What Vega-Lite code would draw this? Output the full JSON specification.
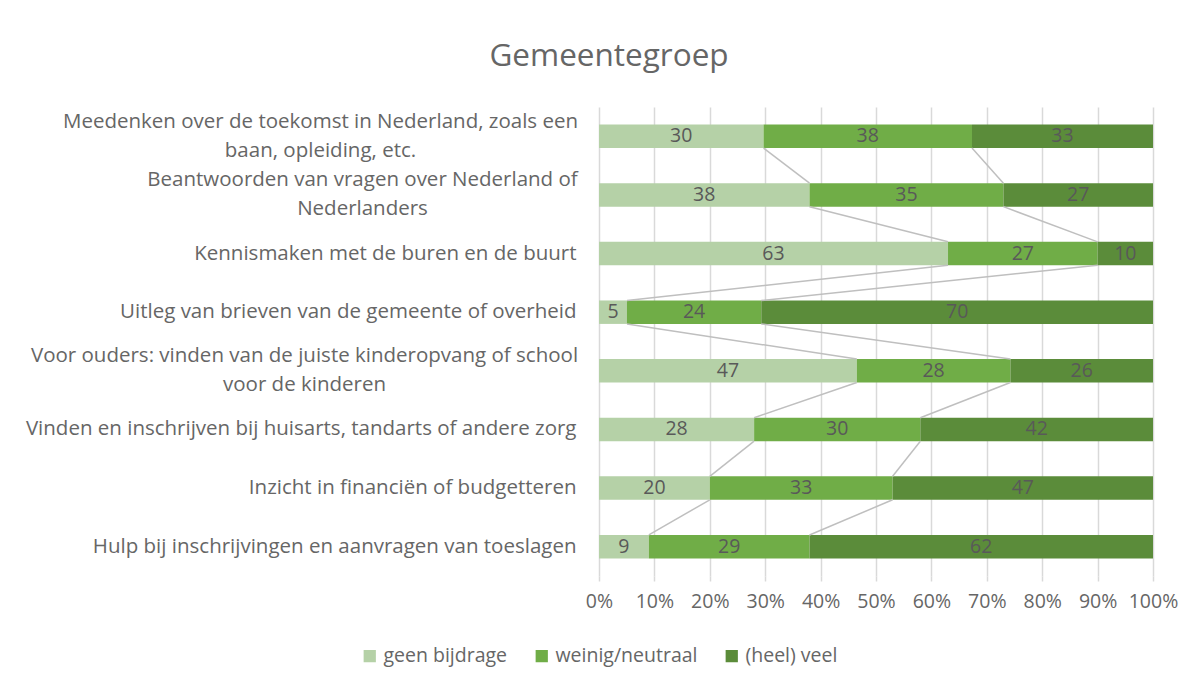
{
  "$schema": "https://vega.github.io/schema/vega-lite/v6.json",
  "width": 554,
  "height": 469,
  "autosize": {"type": "none"},
  "padding": {"left": 599, "top": 107, "right": 43, "bottom": 110},
  "background": "white",
  "config": {"font": "Open Sans", "view": {"stroke": null}},
  "title": {"text": "Gemeentegroep", "fontSize": 31.5, "fontWeight": "normal", "color": "#666666", "anchor": "middle", "dx": -267, "offset": 35, "font": "Open Sans"},
  "data": {"values": [
    {"cat": "Meedenken over de toekomst in Nederland, zoals een baan, opleiding, etc.", "order": 1, "series": "geen bijdrage", "s": 1, "value": 30},
    {"cat": "Meedenken over de toekomst in Nederland, zoals een baan, opleiding, etc.", "order": 1, "series": "weinig/neutraal", "s": 2, "value": 38},
    {"cat": "Meedenken over de toekomst in Nederland, zoals een baan, opleiding, etc.", "order": 1, "series": "(heel) veel", "s": 3, "value": 33},
    {"cat": "Beantwoorden van vragen over Nederland of Nederlanders", "order": 2, "series": "geen bijdrage", "s": 1, "value": 38},
    {"cat": "Beantwoorden van vragen over Nederland of Nederlanders", "order": 2, "series": "weinig/neutraal", "s": 2, "value": 35},
    {"cat": "Beantwoorden van vragen over Nederland of Nederlanders", "order": 2, "series": "(heel) veel", "s": 3, "value": 27},
    {"cat": "Kennismaken met de buren en de buurt", "order": 3, "series": "geen bijdrage", "s": 1, "value": 63},
    {"cat": "Kennismaken met de buren en de buurt", "order": 3, "series": "weinig/neutraal", "s": 2, "value": 27},
    {"cat": "Kennismaken met de buren en de buurt", "order": 3, "series": "(heel) veel", "s": 3, "value": 10},
    {"cat": "Uitleg van brieven van de gemeente of overheid", "order": 4, "series": "geen bijdrage", "s": 1, "value": 5},
    {"cat": "Uitleg van brieven van de gemeente of overheid", "order": 4, "series": "weinig/neutraal", "s": 2, "value": 24},
    {"cat": "Uitleg van brieven van de gemeente of overheid", "order": 4, "series": "(heel) veel", "s": 3, "value": 70},
    {"cat": "Voor ouders: vinden van de juiste kinderopvang of school voor de kinderen", "order": 5, "series": "geen bijdrage", "s": 1, "value": 47},
    {"cat": "Voor ouders: vinden van de juiste kinderopvang of school voor de kinderen", "order": 5, "series": "weinig/neutraal", "s": 2, "value": 28},
    {"cat": "Voor ouders: vinden van de juiste kinderopvang of school voor de kinderen", "order": 5, "series": "(heel) veel", "s": 3, "value": 26},
    {"cat": "Vinden en inschrijven bij huisarts, tandarts of andere zorg ", "order": 6, "series": "geen bijdrage", "s": 1, "value": 28},
    {"cat": "Vinden en inschrijven bij huisarts, tandarts of andere zorg ", "order": 6, "series": "weinig/neutraal", "s": 2, "value": 30},
    {"cat": "Vinden en inschrijven bij huisarts, tandarts of andere zorg ", "order": 6, "series": "(heel) veel", "s": 3, "value": 42},
    {"cat": "Inzicht in financiën of budgetteren", "order": 7, "series": "geen bijdrage", "s": 1, "value": 20},
    {"cat": "Inzicht in financiën of budgetteren", "order": 7, "series": "weinig/neutraal", "s": 2, "value": 33},
    {"cat": "Inzicht in financiën of budgetteren", "order": 7, "series": "(heel) veel", "s": 3, "value": 47},
    {"cat": "Hulp bij inschrijvingen en aanvragen van toeslagen", "order": 8, "series": "geen bijdrage", "s": 1, "value": 9},
    {"cat": "Hulp bij inschrijvingen en aanvragen van toeslagen", "order": 8, "series": "weinig/neutraal", "s": 2, "value": 29},
    {"cat": "Hulp bij inschrijvingen en aanvragen van toeslagen", "order": 8, "series": "(heel) veel", "s": 3, "value": 62}
  ]},
  "encoding": {
    "y": {
      "field": "cat", "type": "nominal",
      "sort": ["Meedenken over de toekomst in Nederland, zoals een baan, opleiding, etc.", "Beantwoorden van vragen over Nederland of Nederlanders", "Kennismaken met de buren en de buurt", "Uitleg van brieven van de gemeente of overheid", "Voor ouders: vinden van de juiste kinderopvang of school voor de kinderen", "Vinden en inschrijven bij huisarts, tandarts of andere zorg ", "Inzicht in financiën of budgetteren", "Hulp bij inschrijvingen en aanvragen van toeslagen"],
      "scale": {"paddingInner": 0.6, "paddingOuter": 0.3},
      "axis": {
        "title": null, "domain": false, "ticks": false, "grid": false,
        "labelFontSize": 20.5, "labelColor": "#666666", "labelLimit": 700, "labelLineHeight": 29, "labelFont": "Open Sans",
        "labelOffset": {"condition": {"test": "indexof(datum.value, 'Meedenken') == 0 || indexof(datum.value, 'Beantwoorden') == 0 || indexof(datum.value, 'Voor ouders') == 0", "value": -14.5}, "value": 0},
        "labelAlign": {"condition": {"test": "indexof(datum.value, 'Meedenken') == 0 || indexof(datum.value, 'Beantwoorden') == 0 || indexof(datum.value, 'Voor ouders') == 0", "value": "center"}, "value": "right"},
        "labelPadding": {"condition": [
          {"test": "indexof(datum.value, 'Meedenken') == 0", "value": 279},
          {"test": "indexof(datum.value, 'Beantwoorden') == 0", "value": 237},
          {"test": "indexof(datum.value, 'Voor ouders') == 0", "value": 295}
        ], "value": 23},
        "labelExpr": "datum.label == 'Meedenken over de toekomst in Nederland, zoals een baan, opleiding, etc.' ? ['Meedenken over de toekomst in Nederland, zoals een', 'baan, opleiding, etc.'] : datum.label == 'Beantwoorden van vragen over Nederland of Nederlanders' ? ['Beantwoorden van vragen over Nederland of', 'Nederlanders'] : datum.label == 'Voor ouders: vinden van de juiste kinderopvang of school voor de kinderen' ? ['Voor ouders: vinden van de juiste kinderopvang of school', 'voor de kinderen'] : datum.label"
      }
    }
  },
  "layer": [
    {
      "mark": {"type": "bar"},
      "encoding": {
        "x": {
          "field": "value", "type": "quantitative", "stack": "normalize",
          "scale": {"domain": [0, 1]},
          "axis": {
            "title": null, "format": ".0%", "values": [0, 0.1, 0.2, 0.3, 0.4, 0.5, 0.6, 0.7, 0.8, 0.9, 1],
            "domain": false, "ticks": true, "tickSize": 5, "tickColor": "#D9D9D9", "tickWidth": 1.5,
            "grid": true, "gridColor": "#D9D9D9", "gridWidth": 1.5,
            "labelFontSize": 19.5, "labelColor": "#666666", "labelPadding": 11, "labelFont": "Open Sans", "labelFlush": false
          }
        },
        "color": {
          "field": "series", "type": "nominal",
          "scale": {"domain": ["geen bijdrage", "weinig/neutraal", "(heel) veel"], "range": ["#B5D1A7", "#70AD47", "#5B8C3A"]},
          "legend": {
            "title": null, "orient": "none", "legendX": -239, "legendY": 539, "direction": "horizontal",
            "symbolType": "square", "symbolSize": 150, "symbolStrokeWidth": 0,
            "labelFontSize": 19.5, "labelColor": "#666666", "labelFont": "Open Sans", "labelOffset": 4, "columnPadding": 24, "labelLimit": 300
          }
        },
        "order": {"field": "s", "type": "quantitative"}
      }
    },
    {
      "mark": {"type": "text", "fontSize": 19.5, "color": "#595959", "font": "Open Sans", "baseline": "middle", "align": "center"},
      "encoding": {
        "x": {"field": "value", "type": "quantitative", "stack": "normalize", "bandPosition": 0.5},
        "detail": {"field": "series"},
        "order": {"field": "s", "type": "quantitative"},
        "text": {"field": "value", "type": "quantitative"}
      }
    },
    {
      "transform": [
        {"joinaggregate": [{"op": "sum", "field": "value", "as": "total"}], "groupby": ["cat"]},
        {"window": [{"op": "sum", "field": "value", "as": "cum"}], "groupby": ["cat"], "sort": [{"field": "s"}], "frame": [null, 0]},
        {"calculate": "datum.cum / datum.total", "as": "frac"},
        {"filter": "datum.s < 3"},
        {"window": [{"op": "lead", "field": "frac", "as": "nextFrac"}, {"op": "lead", "field": "cat", "as": "nextCat"}], "groupby": ["series"], "sort": [{"field": "order"}], "frame": [null, null]},
        {"filter": "datum.nextCat != null"}
      ],
      "mark": {"type": "rule", "color": "#BFBFBF", "strokeWidth": 1.5},
      "encoding": {
        "y": {
          "field": "cat", "type": "nominal", "bandPosition": 1,
          "sort": ["Meedenken over de toekomst in Nederland, zoals een baan, opleiding, etc.", "Beantwoorden van vragen over Nederland of Nederlanders", "Kennismaken met de buren en de buurt", "Uitleg van brieven van de gemeente of overheid", "Voor ouders: vinden van de juiste kinderopvang of school voor de kinderen", "Vinden en inschrijven bij huisarts, tandarts of andere zorg ", "Inzicht in financiën of budgetteren", "Hulp bij inschrijvingen en aanvragen van toeslagen"]
        },
        "y2": {"field": "nextCat", "bandPosition": 0},
        "x": {"field": "frac", "type": "quantitative"},
        "x2": {"field": "nextFrac"}
      }
    }
  ]
}
